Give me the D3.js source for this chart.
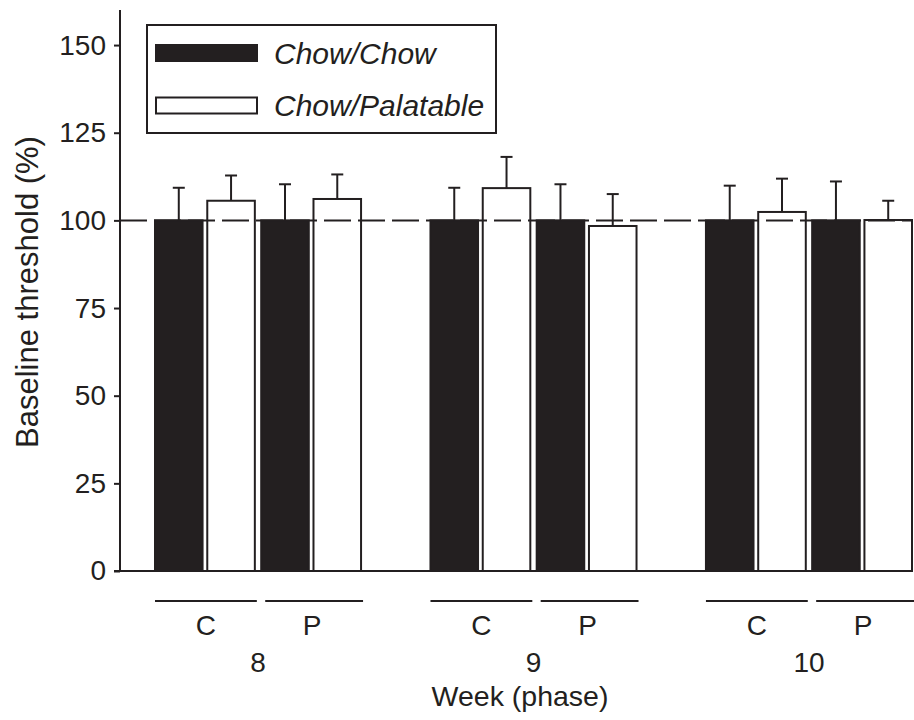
<!DOCTYPE html>
<html>
<head>
<meta charset="utf-8">
<script src="https://cdn.jsdelivr.net/npm/d3@7"></script>
<style>
  body { margin: 0; background: #fff; }
  svg { display: block; font-family: "Liberation Sans", Arial, Helvetica, sans-serif; }
  text { fill: #231f20; }
  .axis path, .axis line { stroke: #231f20; stroke-width: 2; }
  .axis text { font-size: 28px; fill: #231f20; }
</style>
</head>
<body>
<svg width="914" height="720"></svg>
<script>
var ink = "#231f20";

// data (week x phase order)
var weeks = ["8", "9", "10"];
var phases = ["C", "P"];
var diets = ["Chow/Chow", "Chow/Palatable"];
var chowMean = [100, 100, 100, 100, 100, 100];
var chowSem = [9.3, 10.3, 9.3, 10.3, 9.9, 11.1];
var palMean = [105.6, 106.1, 109.2, 98.4, 102.4, 100.1];
var palSem = [7.2, 7.0, 8.9, 9.1, 9.5, 5.5];
var yTicks = [0, 25, 50, 75, 100, 125, 150];

var rows = [];
weeks.forEach(function(w, i) {
  phases.forEach(function(p, j) {
    var k = i * phases.length + j;
    rows.push({week: w, phase: p, diet: diets[0], mean: chowMean[k], sem: chowSem[k]});
    rows.push({week: w, phase: p, diet: diets[1], mean: palMean[k], sem: palSem[k]});
  });
});

var svg = d3.select("svg");

var y = d3.scaleLinear().domain([0, 160]).range([571, 10]);
var x0 = d3.scaleBand().domain(weeks).range([155, 912]).paddingInner(0.252).paddingOuter(0);
var x1 = d3.scaleBand().domain(phases).range([0, x0.bandwidth()]).paddingInner(0.06);
var x2 = d3.scaleBand().domain(diets).range([0, x1.bandwidth()]).paddingInner(0.09);

function barX(d) { return x0(d.week) + x1(d.phase) + x2(d.diet); }

// y axis
svg.append("g")
  .attr("class", "axis")
  .attr("transform", "translate(120,0)")
  .call(d3.axisLeft(y).tickValues(yTicks).tickSize(6).tickPadding(8).tickSizeOuter(0))
  .call(function(g) { g.select(".domain").attr("d", "M0," + y(0) + "V" + y(160)); });

// baseline
svg.append("line")
  .attr("x1", 114).attr("x2", 913)
  .attr("y1", y(0)).attr("y2", y(0))
  .attr("stroke", ink).attr("stroke-width", 2);

// bars
svg.append("g").selectAll("rect")
  .data(rows)
  .enter()
  .append("rect")
  .attr("x", barX)
  .attr("y", function(d) { return y(d.mean); })
  .attr("width", x2.bandwidth())
  .attr("height", function(d) { return y(0) - y(d.mean); })
  .attr("fill", function(d) { return d.diet == diets[0] ? ink : "#fff"; })
  .attr("stroke", ink)
  .attr("stroke-width", 2);

// dashed reference line at 100%
svg.append("line")
  .attr("x1", 120).attr("x2", 913)
  .attr("y1", y(100)).attr("y2", y(100))
  .attr("stroke", ink).attr("stroke-width", 2)
  .attr("stroke-dasharray", "27,7");

// error bars (upper only)
var err = svg.append("g").selectAll("g")
  .data(rows)
  .enter()
  .append("g")
  .attr("stroke", ink)
  .attr("stroke-width", 2);

err.append("line")
  .attr("x1", function(d) { return barX(d) + x2.bandwidth() / 2; })
  .attr("x2", function(d) { return barX(d) + x2.bandwidth() / 2; })
  .attr("y1", function(d) { return y(d.mean); })
  .attr("y2", function(d) { return y(d.mean + d.sem); });

err.append("line")
  .attr("x1", function(d) { return barX(d) + x2.bandwidth() / 2 - 6; })
  .attr("x2", function(d) { return barX(d) + x2.bandwidth() / 2 + 6; })
  .attr("y1", function(d) { return y(d.mean + d.sem); })
  .attr("y2", function(d) { return y(d.mean + d.sem); });

// phase underlines and labels
var phaseRows = [];
weeks.forEach(function(w) { phases.forEach(function(p) { phaseRows.push({week: w, phase: p}); }); });

svg.append("g").selectAll("line")
  .data(phaseRows)
  .enter()
  .append("line")
  .attr("x1", function(d) { return x0(d.week) + x1(d.phase) + (d.phase == "P" ? 4 : 0); })
  .attr("x2", function(d) { return x0(d.week) + x1(d.phase) + x1.bandwidth() + 2; })
  .attr("y1", 601).attr("y2", 601)
  .attr("stroke", ink).attr("stroke-width", 1.8);

svg.append("g").selectAll("text")
  .data(phaseRows)
  .enter()
  .append("text")
  .attr("x", function(d) { return x0(d.week) + x1(d.phase) + x1.bandwidth() / 2 + 1; })
  .attr("y", 635)
  .attr("text-anchor", "middle")
  .attr("font-size", 28)
  .text(function(d) { return d.phase; });

svg.append("g").selectAll("text")
  .data(weeks)
  .enter()
  .append("text")
  .attr("x", function(d) { return x0(d) + x0.bandwidth() / 2; })
  .attr("y", 672)
  .attr("text-anchor", "middle")
  .attr("font-size", 28)
  .text(function(d) { return d; });

svg.append("text")
  .attr("x", 520)
  .attr("y", 706)
  .attr("text-anchor", "middle")
  .attr("font-size", 28.5)
  .text("Week (phase)");

svg.append("text")
  .attr("transform", "translate(38,292) rotate(-90)")
  .attr("text-anchor", "middle")
  .attr("font-size", 31)
  .text("Baseline threshold (%)");

// legend
var legend = svg.append("g");
legend.append("rect")
  .attr("x", 147).attr("y", 25)
  .attr("width", 349).attr("height", 108)
  .attr("fill", "#fff")
  .attr("stroke", ink).attr("stroke-width", 2);

var item = legend.selectAll(".item")
  .data(diets)
  .enter()
  .append("g")
  .attr("class", "item")
  .attr("transform", function(d, i) { return "translate(0," + (i * 52.5) + ")"; });

item.append("rect")
  .attr("x", 156).attr("y", 45)
  .attr("width", 101).attr("height", 16)
  .attr("fill", function(d, i) { return i == 0 ? ink : "#fff"; })
  .attr("stroke", ink).attr("stroke-width", 2);

item.append("text")
  .attr("x", 274).attr("y", 63.5)
  .attr("font-size", 30)
  .attr("font-style", "italic")
  .text(function(d) { return d; });
</script>
</body>
</html>
